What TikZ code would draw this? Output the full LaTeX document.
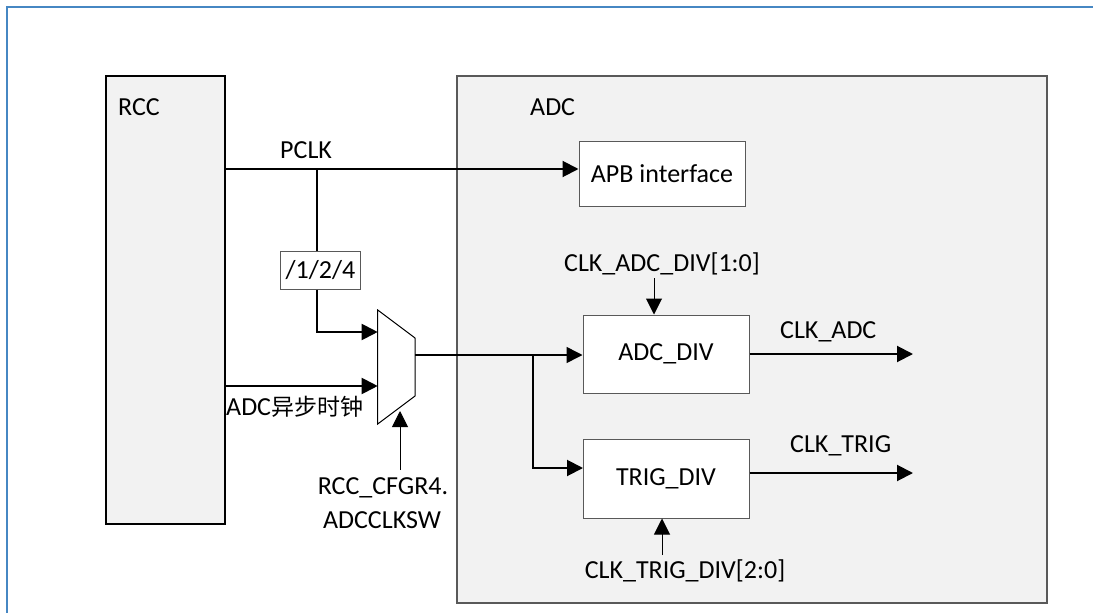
\documentclass[tikz,border=0pt]{standalone}
\usepackage{fontspec}
\setmainfont{Carlito}
\newfontfamily\cjkfont{Noto Sans CJK SC}
\usetikzlibrary{arrows.meta}
\definecolor{bgfill}{HTML}{F2F2F2}
\definecolor{frameblue}{RGB}{70,135,195}
\definecolor{boxgray}{HTML}{595959}
\begin{document}
\begin{tikzpicture}[x=1pt,y=-1pt,
  lbl/.style={inner sep=0pt,anchor=base west,font=\fontsize{26}{30}\selectfont},
  blk/.style={draw=boxgray,line width=1pt,fill=white,inner sep=0pt,font=\fontsize{26}{30}\selectfont},
  tip/.style={-{Triangle[length=16pt,width=16pt]}},
  wire/.style={line width=2pt},
  thin/.style={line width=1pt}]
\useasboundingbox (0,0) rectangle (1093,613);
% outer frame (top and left)
\draw[frameblue,line width=2pt] (7,613) -- (7,7) -- (1093,7);
% big blocks
\node[draw=black,line width=1.5pt,fill=bgfill,minimum width=119pt,minimum height=448pt,inner sep=0pt] (rcc) at (165.5,300) {};
\node[draw=boxgray,line width=1.5pt,fill=bgfill,minimum width=590pt,minimum height=527pt,inner sep=0pt] (adc) at (752,339.5) {};
\node[lbl] (rcclbl) at (118,115) {RCC};
\node[lbl] (adclbl) at (530,115) {ADC};
% inner blocks
\node[blk,minimum width=166pt,minimum height=65pt] (apb) at (662,173.5) {APB interface};
\node[blk,minimum width=166pt,minimum height=78pt] (adcdiv) at (666,354) {ADC\_DIV};
\node[blk,minimum width=166pt,minimum height=79pt] (trigdiv) at (666,478.5) {TRIG\_DIV};
\node[blk,draw=boxgray,minimum width=80pt,minimum height=38pt] (div) at (320.5,270) {/1/2/4};
% mux
\coordinate (m1) at (377.7,310);
\coordinate (m2) at (415,338);
\coordinate (m3) at (415,396);
\coordinate (m4) at (377.7,424);
\draw[fill=white,line width=1pt] (m1) -- (m2) -- (m3) -- (m4) -- cycle;
\coordinate (min1) at (377.7,332);
\coordinate (min2) at (377.7,386);
\coordinate (mout) at (415,355);
\coordinate (msel) at (400,411);
% PCLK
\coordinate (pj) at (316.5,169);
\draw[wire,tip] (rcc.east |- pj) -- (apb.west |- pj);
\node[lbl] (pclk) at (280,158) {PCLK};
\draw[wire] (pj) -- (pj |- div.north);
\draw[wire,tip] (pj |- div.south) |- (min1);
% async clock
\draw[wire,tip] (rcc.east |- min2) -- (min2);
\node[lbl] (async) at (226,415) {ADC{\cjkfont\fontsize{23}{27}\selectfont 异步时钟}};
% select
\node[lbl,anchor=base] (sel1) at (383,494) {RCC\_CFGR4.};
\node[lbl,anchor=base] (sel2) at (382,528) {ADCCLKSW};
\coordinate (selb) at (400,470);
\draw[thin,tip] (selb) -- (msel);
% mux output
\coordinate (br) at (533,355);
\draw[line width=1.5pt,tip] (mout) -- (adcdiv.west |- mout);
\coordinate (tin) at (583,468);
\draw[wire,tip] (br) |- (tin);
% outputs
\coordinate (oadc) at (913,354);
\coordinate (otrig) at (913,473);
\draw[wire,tip] (adcdiv.east |- oadc) -- (oadc);
\draw[wire,tip] (trigdiv.east |- otrig) -- (otrig);
\node[lbl] (clkadc) at (780,338) {CLK\_ADC};
\node[lbl] (clktrig) at (790,452) {CLK\_TRIG};
% control inputs
\node[lbl,anchor=base] (cad) at (662,271) {CLK\_ADC\_DIV[1:0]};
\coordinate (cadt) at (654,278);
\draw[thin,tip] (cadt) -- (cadt |- adcdiv.north);
\node[lbl,anchor=base] (ctd) at (685,578) {CLK\_TRIG\_DIV[2:0]};
\coordinate (ctdt) at (662,555);
\draw[thin,tip] (ctdt) -- (ctdt |- trigdiv.south);
\end{tikzpicture}
\end{document}
